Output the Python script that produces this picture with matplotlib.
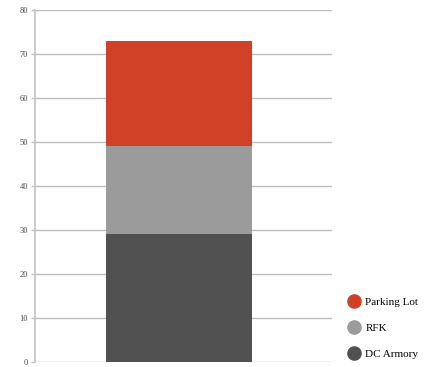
import matplotlib.pyplot as plt
from matplotlib.lines import Line2D

# Data
series = ["DC Armory", "RFK", "Parking Lot"]
values = [29, 20, 24]
colors = ["#505150", "#9b9b9b", "#d04127"]
yticks = [0, 10, 20, 30, 40, 50, 60, 70, 80]

plt.rcParams['font.family'] = ['Liberation Serif', 'DejaVu Serif']

fig = plt.figure(figsize=(4.28, 3.67), dpi=100)
ax = fig.add_axes([35 / 428, 5 / 367, 297 / 428, 352 / 367])

bottom = 0
for name, v, c in zip(series, values, colors):
    ax.bar(0, v, width=0.5, bottom=bottom, color=c, zorder=3, label=name)
    bottom += v

ax.set_xlim(-0.493, 0.524)
ax.set_ylim(0, 80)
ax.set_yticks(yticks)
ax.set_xticks([])
ax.grid(axis='y', color='#bdbdbd', linewidth=1, zorder=0)
for s in ['top', 'right', 'bottom']:
    ax.spines[s].set_visible(False)
ax.spines['left'].set_color('#c4c4c4')
ax.spines['left'].set_linewidth(1.2)
ax.tick_params(axis='y', length=3, width=1, color='#bdbdbd', labelsize=6,
               labelcolor='#444444', pad=2)

handles = [Line2D([], [], marker='o', linestyle='', markersize=9.5,
                  markerfacecolor=c, markeredgecolor=c)
           for c in colors[::-1]]
fig.legend(handles, series[::-1], loc='center left',
           bbox_to_anchor=(338 / 428, 1 - 328 / 367), frameon=False,
           fontsize=8, handletextpad=0.05, labelspacing=1.45, borderaxespad=0)

fig.savefig("out.png", dpi=100)
